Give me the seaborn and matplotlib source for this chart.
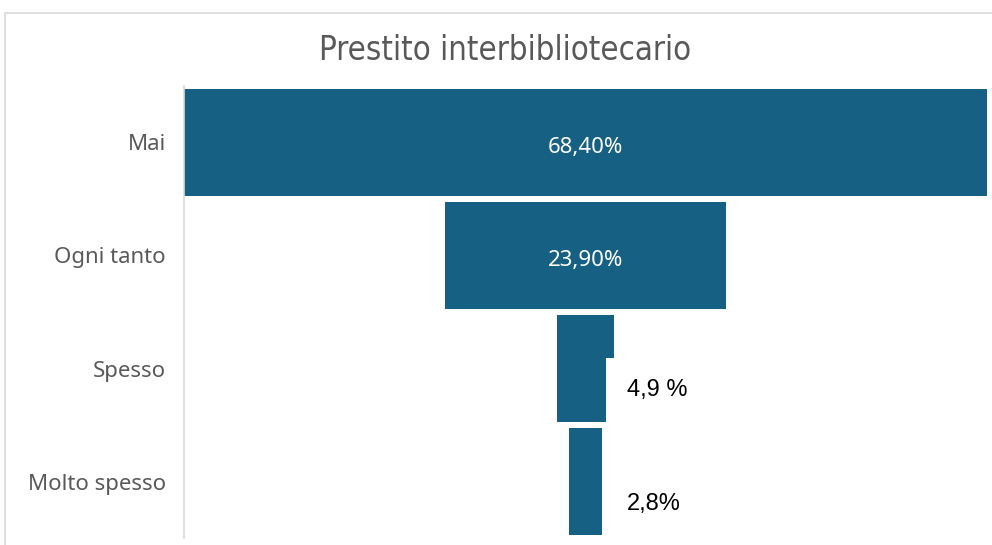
import matplotlib
matplotlib.use("Agg")
import matplotlib.pyplot as plt
import matplotlib.patches as mpatches
import seaborn as sns
import pandas as pd

# =========================
# DATA
# =========================
categories = ["Mai", "Ogni tanto", "Spesso", "Molto spesso"]
values = [68.4, 23.9, 4.9, 2.8]
labels = ["68,40%", "23,90%", "4,9 %", "2,8%"]
title = "Prestito interbibliotecario"

df = pd.DataFrame({"categoria": categories, "valore": values})

# =========================
# STYLE
# =========================
sns.set_style("white")
plt.rcParams["font.family"] = ["Noto Sans", "DejaVu Sans"]
BLUE = "#166083"
GREY = "#595959"

fig = plt.figure(figsize=(9.92, 5.45), dpi=100)
ax = fig.add_axes([184 / 992, 1 - 538 / 545, (987 - 184) / 992, (538 - 86) / 545])

# outer chart frame
fig.patches.append(mpatches.Rectangle((5 / 992, -0.1), 1.2, 1 - 13 / 545 + 0.1,
                                      transform=fig.transFigure, fill=False,
                                      edgecolor="#d9d9d9", linewidth=1.2))

sns.barplot(data=df, x="valore", y="categoria", color=BLUE, saturation=1,
            width=0.95, linewidth=0, ax=ax)

# centre every bar -> funnel
vmax = max(values)
for patch in ax.patches:
    w = patch.get_width()
    patch.set_x((vmax - w) / 2)

ax.set_xlim(0, vmax)
ax.set_ylim(3.5, -0.5)
ax.set_xticks([])
ax.set_xlabel("")
ax.set_ylabel("")
ax.tick_params(axis="y", length=0, pad=13, labelsize=16, labelcolor=GREY)
for t in ax.get_yticklabels():
    t.set_verticalalignment("center_baseline")

for s in ["top", "right", "bottom"]:
    ax.spines[s].set_visible(False)
ax.spines["left"].set_color("#d9d9d9")
ax.spines["left"].set_linewidth(1.2)

# value labels
for i, (v, lab) in enumerate(zip(values, labels)):
    if v > 10:
        ax.text(vmax / 2, i + 0.02, lab, ha="center", va="center_baseline",
                color="white", fontsize=16)
    else:
        ax.text(37.7, i + 0.19 if i == 2 else i + 0.2, lab, ha="left", va="center",
                color="black", fontsize=17, family=["Liberation Sans", "DejaVu Sans"],
                bbox=dict(facecolor="white", edgecolor="none",
                          boxstyle="square,pad=0.88"), zorder=4)

fig.text(505 / 992, 1 - 50 / 545, title, ha="center", va="center",
         fontsize=23.7, color=GREY, family=["DejaVu Sans"], fontstretch="condensed")

fig.savefig("out.png", dpi=100)
